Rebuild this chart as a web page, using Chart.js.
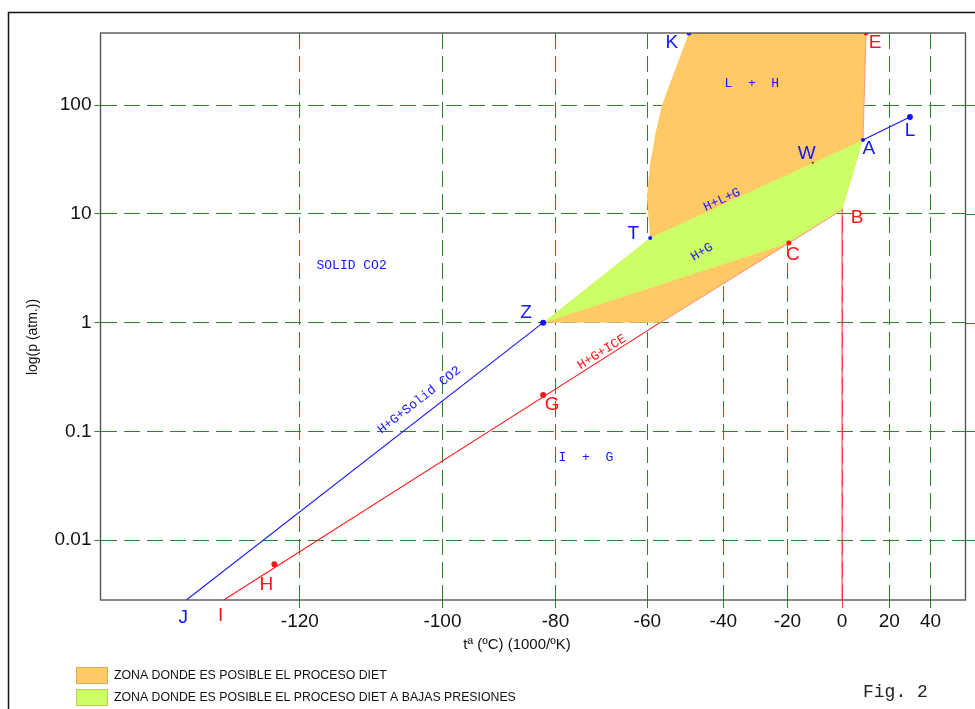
<!DOCTYPE html>
<html><head><meta charset="utf-8">
<script src="https://cdn.jsdelivr.net/npm/chart.js@4/dist/chart.umd.min.js"></script>
<style>html,body{margin:0;padding:0;background:#fff;}#wrap{position:relative;width:975px;height:709px;}</style>
</head><body><div id="wrap"><canvas id="c" width="975" height="709"></canvas></div>
<script>
// ---- axis ranges and ticks (°C on a 1000/K scale, atm on a log scale)
const xRangeC = [-141.3, 59.3];
const yRange = [0.00281, 462];
const xTickTemps = [-120, -100, -80, -60, -40, -20, 0, 20, 40];
const xTickLabels = ['-120', '-100', '-80', '-60', '-40', '-20', '0', '20', '40'];
const yTickValues = [0.01, 0.1, 1, 10, 100];
const yTickLabels = ['0.01', '0.1', '1', '10', '100'];

// ---- zone polygons (°C, atm)
const zoneDietT = [-49.5, 9.8, 8.5, 0, -19.5, -56.9, -82.4, -59.3, -60.1, -59.35, -58.1, -56.4, -53.6, -49.5];
const zoneDietP = [462, 462, 48, 10.9, 5.41, 1, 1, 6.0, 14.0, 28.2, 53.3, 100.6, 190, 462];
const zoneLowT = [-82.4, -59.3, 8.5, 0, -19.5, -82.4];
const zoneLowP = [1, 6.0, 48, 10.9, 5.41, 1];

// ---- equilibrium lines
const lineSolidT = [-132.9, -82.4];      const lineSolidP = [0.00281, 1];
const lineIceT = [-128.9, -56.9];        const lineIceP = [0.00281, 1];
const edgeLowT = [-56.9, -19.5, 0];      const edgeLowP = [1, 5.41, 10.9];
const edgeEAT = [9.8, 8.5];              const edgeEAP = [462, 48];
const lineALT = [8.5, 29.7];             const lineALP = [48, 78];
const lineZeroT = [0, 0];                const lineZeroP = [10.9, 0.00281];

// ---- named points
const ptNames = ['K', 'E', 'A', 'L', 'W', 'B', 'T', 'C', 'Z', 'G', 'H', 'J', 'I'];
const ptT = [-49.5, 9.8, 8.5, 29.7, -11.1, 0, -59.3, -19.5, -82.4, -82.4, -123.1, -132.9, -128.9];
const ptP = [462, 462, 48, 78, 29.6, 10.9, 6.0, 5.41, 1, 0.216, 0.00599, 0.00281, 0.00281];

// ---- region labels
const regText = ['L  +  H', 'H+L+G', 'H+G', 'H+G+ICE', 'H+G+Solid CO2', 'SOLID CO2', 'I  +  G'];
const regT = [-31.5, -40.4, -46.0, -70.4, -103.6, -113.3, -73.8];
const regP = [157, 13.5, 4.47, 0.537, 0.194, 3.32, 0.058];

const legendTexts = ['ZONA DONDE ES POSIBLE EL PROCESO DIET', 'ZONA DONDE ES POSIBLE EL PROCESO DIET A BAJAS PRESIONES'];

// ---- styles
const BLUE = '#1414ff', RED = '#ff1414', ORANGE = '#ffc966', GREEN = '#ccff66', SALMON = '#ff9c7c', GRID = '#2a862a';
const DASH = [16, 7];
const ptColor = {K: BLUE, E: RED, A: BLUE, L: BLUE, W: '#6b1010', B: RED, T: BLUE, C: RED, Z: BLUE, G: RED, H: RED, J: BLUE, I: RED};
const lblColor = {K: BLUE, E: RED, A: BLUE, L: BLUE, W: BLUE, B: RED, T: BLUE, C: RED, Z: BLUE, G: RED, H: RED, J: BLUE, I: RED};
const ptRadius = {K: 2.5, E: 2.5, A: 2, L: 3, W: 1, B: 0, T: 2, C: 2.5, Z: 3, G: 3, H: 3, J: 0, I: 0};
const lblOff = {K: [-17, 10], E: [9, 10], A: [6, 9], L: [0, 14], W: [-6, -9], B: [15, 8], T: [-17, -4], C: [4, 12], Z: [-17, -10], G: [9, 10], H: [-8, 20], J: [-3, 18], I: [-3, 16]};
const regAngle = [0, -25, -31, -32, -38, 0, 0];
const regColor = [BLUE, BLUE, BLUE, RED, BLUE, BLUE, BLUE];

const toU = t => -1000 / (t + 273.15);
const pts = (T, P) => T.map((t, i) => ({x: toU(t), y: P[i]}));

function poly(T, P, color, order) {
  return {data: pts(T, P), showLine: true, fill: 'shape', backgroundColor: color,
    borderColor: 'rgba(0,0,0,0)', borderWidth: 0, pointRadius: 0, tension: 0, order};
}
function line(T, P, color, order) {
  return {data: pts(T, P), showLine: true, fill: false, borderColor: color, borderWidth: 1.1,
    pointRadius: 0, tension: 0, order};
}

const plotDeco = {
  id: 'plotDeco',
  beforeDraw(chart) {
    const {ctx, width, height} = chart;
    ctx.save();
    ctx.fillStyle = '#fff'; ctx.fillRect(0, 0, width, height);
    ctx.strokeStyle = '#111'; ctx.lineWidth = 1.5;
    ctx.beginPath(); ctx.moveTo(8.5, height); ctx.lineTo(8.5, 12.5); ctx.lineTo(width, 12.5); ctx.stroke();
    ctx.restore();
  },
  beforeDatasetsDraw(chart) {
    const {ctx, chartArea: a, width} = chart, ys = chart.scales.y;
    ctx.save();
    ctx.strokeStyle = GRID; ctx.lineWidth = 1; ctx.setLineDash(DASH);
    yTickValues.forEach(v => {
      const y = Math.round(ys.getPixelForValue(v)) + 0.5;
      ctx.beginPath(); ctx.moveTo(a.right, y); ctx.lineTo(width, y); ctx.stroke();
    });
    ctx.restore();
  },
  afterDatasetsDraw(chart) {
    const {ctx, chartArea: a} = chart, xs = chart.scales.x, ys = chart.scales.y;
    ctx.save();
    ctx.strokeStyle = '#555'; ctx.lineWidth = 1.4;
    ctx.strokeRect(a.left, a.top, a.right - a.left, a.bottom - a.top);
    // point letters
    ctx.font = '19px "Liberation Sans", Arial, sans-serif';
    ctx.textAlign = 'center'; ctx.textBaseline = 'middle';
    ptNames.forEach((n, i) => {
      const x = xs.getPixelForValue(toU(ptT[i])), y = ys.getPixelForValue(ptP[i]);
      ctx.fillStyle = lblColor[n];
      ctx.fillText(n, x + lblOff[n][0], y + lblOff[n][1]);
    });
    // region labels
    ctx.font = '13px "Liberation Mono", monospace';
    regText.forEach((s, i) => {
      const x = xs.getPixelForValue(toU(regT[i])), y = ys.getPixelForValue(regP[i]);
      ctx.save(); ctx.translate(x, y); ctx.rotate(regAngle[i] * Math.PI / 180);
      ctx.fillStyle = regColor[i]; ctx.fillText(s, 0, 0); ctx.restore();
    });
    ctx.restore();
  },
  afterDraw(chart) {
    const {ctx} = chart;
    ctx.save();
    ctx.fillStyle = '#111'; ctx.textAlign = 'center'; ctx.textBaseline = 'middle';
    ctx.font = '15px "Liberation Sans", Arial, sans-serif';
    ctx.fillText('tª (ºC) (1000/ºK)', 517, 645);
    ctx.save(); ctx.translate(33, 337); ctx.rotate(-Math.PI / 2);
    ctx.font = '14px "Liberation Sans", Arial, sans-serif';
    ctx.fillText('log(p (atm.))', 0, 0); ctx.restore();
    // legend
    const cols = [ORANGE, GREEN], ys2 = [667, 689];
    ctx.textAlign = 'left';
    ctx.font = '12.3px "Liberation Sans", Arial, sans-serif';
    cols.forEach((c, i) => {
      ctx.fillStyle = c; ctx.fillRect(76, ys2[i], 32, 17);
      ctx.strokeStyle = 'rgba(150,120,60,0.35)'; ctx.lineWidth = 1;
      ctx.strokeRect(76.5, ys2[i] + 0.5, 31, 16);
      ctx.fillStyle = '#111'; ctx.fillText(legendTexts[i], 114, ys2[i] + 8.5);
    });
    ctx.font = '18px "Liberation Mono", monospace';
    ctx.fillStyle = '#222';
    ctx.fillText('Fig. 2', 863, 692);
    ctx.restore();
  }
};

const datasets = [
  poly(zoneDietT, zoneDietP, ORANGE, 20),
  poly(zoneLowT, zoneLowP, GREEN, 19),
  line(edgeEAT, edgeEAP, SALMON, 10),
  line(edgeLowT, edgeLowP, SALMON, 10),
  line(lineSolidT, lineSolidP, BLUE, 9),
  line(lineIceT, lineIceP, RED, 9),
  line(lineALT, lineALP, BLUE, 9),
  line(lineZeroT, lineZeroP, '#ff3a3a', 9),
  {data: pts(ptT, ptP), showLine: false, order: 1,
   pointRadius: ptNames.map(n => ptRadius[n]),
   pointBackgroundColor: ptNames.map(n => ptColor[n]),
   pointBorderWidth: 0, pointBorderColor: 'rgba(0,0,0,0)'}
];

new Chart(document.getElementById('c'), {
  type: 'scatter',
  data: {datasets},
  options: {
    responsive: false, animation: false, devicePixelRatio: 1,
    layout: {padding: {top: 33, right: 9.5, left: 0, bottom: 0}},
    plugins: {legend: {display: false}, tooltip: {enabled: false}},
    scales: {
      x: {
        type: 'linear', min: toU(xRangeC[0]), max: toU(xRangeC[1]),
        afterBuildTicks: ax => { ax.ticks = xTickTemps.map(t => ({value: toU(t)})); },
        afterFit: ax => { ax.height = 109; },
        ticks: {autoSkip: false, maxRotation: 0, padding: 2, color: '#111',
          font: {family: '"Liberation Sans", Arial, sans-serif', size: 19},
          callback: (v, i) => xTickLabels[i]},
        grid: {color: ctx => (ctx.tick && Math.abs(ctx.tick.value - toU(0)) < 1e-9) ? '#ff3a3a' : GRID,
          lineWidth: 1, tickLength: 8},
        border: {display: false, dash: DASH}
      },
      y: {
        type: 'logarithmic', min: yRange[0], max: yRange[1],
        afterBuildTicks: ax => { ax.ticks = yTickValues.map(v => ({value: v})); },
        afterFit: ax => { ax.width = 100.5; },
        ticks: {autoSkip: false, padding: 3, color: '#111',
          font: {family: '"Liberation Sans", Arial, sans-serif', size: 19},
          callback: (v, i) => yTickLabels[i]},
        grid: {color: GRID, lineWidth: 1, tickLength: 6},
        border: {display: false, dash: DASH}
      }
    }
  },
  plugins: [plotDeco]
});
</script></body></html>
